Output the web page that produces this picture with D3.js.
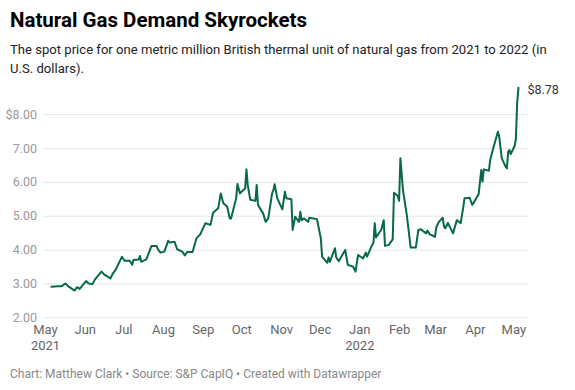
<!DOCTYPE html>
<html><head><meta charset="utf-8">
<script src="https://cdn.jsdelivr.net/npm/d3@7"></script>
<style>
body{margin:0;background:#fff;font-family:Roboto,"Noto Sans",sans-serif;}
svg{display:block}
</style></head>
<body><svg id="c" width="575" height="390"></svg>
<script>
const dates = ["2021-05-06","2021-05-11","2021-05-14","2021-05-17","2021-05-19","2021-05-24","2021-05-26","2021-05-28",
"2021-06-02","2021-06-04","2021-06-07","2021-06-09","2021-06-14","2021-06-16","2021-06-21","2021-06-23","2021-06-25","2021-06-30",
"2021-07-02","2021-07-06","2021-07-08","2021-07-09","2021-07-13","2021-07-14","2021-07-15","2021-07-19","2021-07-23","2021-07-27","2021-07-28","2021-07-30",
"2021-08-02","2021-08-05","2021-08-06","2021-08-10","2021-08-12","2021-08-16","2021-08-18","2021-08-20","2021-08-24","2021-08-27","2021-08-30",
"2021-09-03","2021-09-07","2021-09-09","2021-09-13","2021-09-15","2021-09-17","2021-09-20","2021-09-22","2021-09-23","2021-09-27","2021-09-28","2021-09-30",
"2021-10-04","2021-10-05","2021-10-06","2021-10-08","2021-10-12","2021-10-13","2021-10-14","2021-10-18","2021-10-20","2021-10-22","2021-10-25","2021-10-26","2021-10-27","2021-10-29",
"2021-11-02","2021-11-04","2021-11-05","2021-11-09","2021-11-10","2021-11-12","2021-11-15","2021-11-16","2021-11-17","2021-11-19","2021-11-22","2021-11-23","2021-11-29",
"2021-12-02","2021-12-03","2021-12-07","2021-12-08","2021-12-09","2021-12-13","2021-12-14","2021-12-16","2021-12-21","2021-12-23","2021-12-27","2021-12-29","2021-12-31",
"2022-01-04","2022-01-06","2022-01-07","2022-01-11","2022-01-12","2022-01-13","2022-01-14","2022-01-18","2022-01-20","2022-01-21","2022-01-24","2022-01-27","2022-01-28","2022-01-31",
"2022-02-01","2022-02-02","2022-02-04","2022-02-07","2022-02-10","2022-02-14","2022-02-16","2022-02-18","2022-02-22","2022-02-23","2022-02-25",
"2022-03-01","2022-03-02","2022-03-04","2022-03-07","2022-03-08","2022-03-09","2022-03-11","2022-03-15","2022-03-18","2022-03-21","2022-03-23","2022-03-24","2022-03-28","2022-03-30",
"2022-04-01","2022-04-04","2022-04-06","2022-04-07","2022-04-08","2022-04-12","2022-04-13","2022-04-15","2022-04-19","2022-04-20","2022-04-22","2022-04-25","2022-04-26","2022-04-27","2022-04-28","2022-04-29",
"2022-05-02","2022-05-03","2022-05-04","2022-05-05"];
const prices = [2.90,2.92,2.92,3.00,2.92,2.79,2.89,2.84,
3.07,3.00,2.98,3.12,3.35,3.27,3.15,3.30,3.40,3.79,
3.67,3.67,3.55,3.69,3.71,3.81,3.64,3.71,4.11,4.11,4.01,3.91,
3.94,4.26,4.21,4.23,4.01,3.94,3.83,3.93,3.93,4.33,4.45,
4.78,4.73,5.09,5.22,5.66,5.37,5.27,4.92,4.92,5.52,5.94,5.66,
5.81,6.37,5.91,5.47,5.44,5.91,5.32,5.07,4.82,4.92,5.66,5.76,5.93,5.52,
5.19,5.71,5.52,5.49,4.58,4.97,4.82,5.12,4.87,4.92,4.82,4.94,4.90,
4.33,3.79,3.61,3.77,3.64,4.04,3.77,3.66,3.99,3.55,3.50,3.35,3.84,
3.74,3.91,3.79,4.14,4.19,4.78,4.36,4.58,4.87,4.11,4.14,4.30,5.68,5.58,
5.44,6.70,5.76,5.02,4.06,4.06,4.58,4.60,4.48,4.56,4.45,
4.38,4.66,4.82,4.94,4.68,4.63,4.79,4.48,4.87,4.78,5.25,5.52,5.53,5.32,
5.44,5.64,6.35,6.01,6.37,6.33,6.65,6.94,7.48,7.34,6.70,6.45,6.40,6.89,6.94,6.82,
7.06,7.26,8.32,8.78];
const yTicks = [2,3,4,5,6,7,8];
const xTickDates = ["2021-05-01","2021-06-01","2021-07-01","2021-08-01","2021-09-01","2021-10-01","2021-11-01","2021-12-01","2022-01-01","2022-02-01","2022-03-01","2022-04-01","2022-05-01"];
const xTickLabels = ["May","Jun","Jul","Aug","Sep","Oct","Nov","Dec","Jan","Feb","Mar","Apr","May"];
const xTickYears = ["2021","","","","","","","","2022","","","",""];
const title = "Natural Gas Demand Skyrockets";
const subtitle = ["The spot price for one metric million British thermal unit of natural gas from 2021 to 2022 (in","U.S. dollars)."];
const footer = "Chart: Matthew Clark • Source: S&P CapIQ • Created with Datawrapper";

const parse = d3.timeParse("%Y-%m-%d");
const data = dates.map((d,i)=>({date:parse(d), v:prices[i]}));

const svg = d3.select("#c");
const gridL = 43, gridR = 528;
const x = d3.scaleTime().domain([parse("2021-05-01"), parse("2022-05-01")]).range([45, 513.3]);
const y = d3.scaleLinear().domain([2, 8]).range([317.3, 114.2]);

svg.append("text").attr("x",10).attr("y",27).attr("font-size",20.5).attr("font-weight",700).attr("fill","#000").text(title);
svg.selectAll("text.sub").data(subtitle).join("text").attr("class","sub")
  .attr("x",10).attr("y",(d,i)=>54+i*18.5).attr("font-size",13.1).attr("fill","#222").text(d=>d);

// gridlines
const yAxis = d3.axisLeft(y).tickValues(yTicks).tickSize(-(gridR-gridL)).tickPadding(6)
  .tickFormat(d => d===8 ? "$8.00" : d3.format(".2f")(d));
const gy = svg.append("g").attr("transform",`translate(${gridL},0)`).call(yAxis);
gy.select(".domain").remove();
gy.selectAll(".tick line").attr("stroke","#e6e6e6").attr("stroke-width",1);
gy.selectAll(".tick text").attr("font-size",12.5).attr("fill","#9a9a9a").attr("font-family","Roboto").attr("x",-6);

const xAxis = d3.axisBottom(x).tickValues(xTickDates.map(parse)).tickSize(0).tickPadding(0)
  .tickFormat((d,i)=>xTickLabels[i]);
const gx = svg.append("g").attr("transform",`translate(0,320)`).call(xAxis);
gx.select(".domain").remove();
gx.selectAll(".tick text").attr("font-size",13).attr("fill","#666").attr("font-family","Roboto").attr("dy",0).attr("y",14)
  .each(function(d,i){
    if (xTickYears[i]) {
      d3.select(this.parentNode).append("text").attr("y",29.5).attr("text-anchor","middle")
        .attr("font-size",13).attr("fill","#666").attr("font-family","Roboto").text(xTickYears[i]);
    }
  });

const line = d3.line().x(d=>x(d.date)).y(d=>y(d.v)).curve(d3.curveLinear);
svg.append("path").datum(data).attr("d",line).attr("fill","none").attr("stroke","#07694c")
  .attr("stroke-width",2).attr("stroke-linejoin","round").attr("stroke-linecap","round");

const last = data[data.length-1];
svg.append("text").attr("x",x(last.date)+9).attr("y",y(last.v)+6).attr("font-size",12.5).attr("fill","#333")
  .text(d3.format("$.2f")(last.v));

svg.append("text").attr("x",10).attr("y",378).attr("font-size",12).attr("fill","#888").text(footer);
</script></body></html>
